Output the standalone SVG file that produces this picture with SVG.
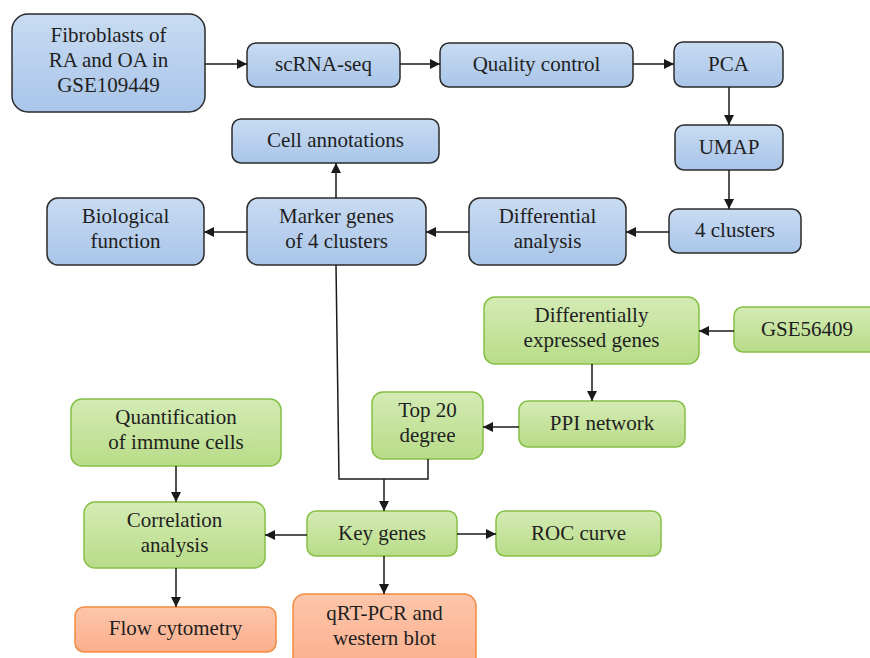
<svg xmlns="http://www.w3.org/2000/svg" width="870" height="658" viewBox="0 0 870 658">
<defs>
<linearGradient id="gb" x1="0" y1="0" x2="0" y2="1"><stop offset="0" stop-color="#c8dbf2"/><stop offset="1" stop-color="#a9c5e9"/></linearGradient>
<linearGradient id="gg" x1="0" y1="0" x2="0" y2="1"><stop offset="0" stop-color="#d4ebb4"/><stop offset="1" stop-color="#b8dc88"/></linearGradient>
<linearGradient id="go" x1="0" y1="0" x2="0" y2="1"><stop offset="0" stop-color="#fdc6ab"/><stop offset="1" stop-color="#fbaf8c"/></linearGradient>
<marker id="ah" viewBox="0 0 10 10" refX="10" refY="5" markerWidth="10" markerHeight="10" markerUnits="userSpaceOnUse" orient="auto"><path d="M0,0 L10,5 L0,10 z" fill="#1a1a1a"/></marker>
</defs>
<style>
.b{fill:url(#gb);stroke:#2b2b2b;stroke-width:1.5}
.g{fill:url(#gg);stroke:#86bf45;stroke-width:1.5}
.o{fill:url(#go);stroke:#f28a3f;stroke-width:1.5}
text{font-family:"Liberation Serif","Times New Roman",serif;font-size:21px;fill:#1f1f1f;text-anchor:middle}
.c line,.c polyline{stroke:#1a1a1a;stroke-width:1.5;fill:none;marker-end:url(#ah)}
.c polyline.n{marker-end:none}
</style>
<rect width="870" height="658" fill="#ffffff"/>
<g id="n-fibro"><rect class="b" x="12" y="14" width="193" height="98" rx="16"/><text x="108.5" y="42">Fibroblasts of</text><text x="108.5" y="67">RA and OA in</text><text x="108.5" y="92">GSE109449</text></g>
<g id="n-scrna"><rect class="b" x="247" y="43" width="153" height="44" rx="9"/><text x="323.5" y="71">scRNA-seq</text></g>
<g id="n-qc"><rect class="b" x="440" y="43" width="193" height="44" rx="9"/><text x="536.5" y="71">Quality control</text></g>
<g id="n-pca"><rect class="b" x="674" y="42" width="109" height="45" rx="9"/><text x="728.5" y="71">PCA</text></g>
<g id="n-umap"><rect class="b" x="675" y="125" width="108" height="45" rx="9"/><text x="729" y="154">UMAP</text></g>
<g id="n-4cl"><rect class="b" x="669" y="209" width="132" height="44" rx="9"/><text x="735" y="237">4 clusters</text></g>
<g id="n-diff"><rect class="b" x="469" y="198" width="157" height="67" rx="11"/><text x="547.5" y="223">Differential</text><text x="547.5" y="248">analysis</text></g>
<g id="n-marker"><rect class="b" x="247" y="198" width="179" height="67" rx="11"/><text x="336.5" y="223">Marker genes</text><text x="336.5" y="248">of 4 clusters</text></g>
<g id="n-bio"><rect class="b" x="47" y="198" width="157" height="67" rx="11"/><text x="125.5" y="223">Biological</text><text x="125.5" y="248">function</text></g>
<g id="n-cell"><rect class="b" x="232" y="119" width="207" height="44" rx="9"/><text x="335.5" y="147">Cell annotations</text></g>
<g id="n-deg"><rect class="g" x="484" y="297" width="215" height="67" rx="11"/><text x="591.5" y="322">Differentially</text><text x="591.5" y="347">expressed genes</text></g>
<g id="n-gse"><rect class="g" x="734" y="307" width="150" height="45" rx="9"/><text x="807" y="336">GSE56409</text></g>
<g id="n-ppi"><rect class="g" x="519" y="401" width="166" height="46" rx="9"/><text x="602" y="430">PPI network</text></g>
<g id="n-top"><rect class="g" x="372" y="392" width="111" height="67" rx="11"/><text x="427.5" y="417">Top 20</text><text x="427.5" y="442">degree</text></g>
<g id="n-quant"><rect class="g" x="71" y="399" width="210" height="67" rx="11"/><text x="176" y="424">Quantification</text><text x="176" y="449">of immune cells</text></g>
<g id="n-corr"><rect class="g" x="84" y="502" width="181" height="66" rx="11"/><text x="174.5" y="527">Correlation</text><text x="174.5" y="552">analysis</text></g>
<g id="n-key"><rect class="g" x="307" y="511" width="150" height="45" rx="9"/><text x="382" y="540">Key genes</text></g>
<g id="n-roc"><rect class="g" x="496" y="511" width="165" height="45" rx="9"/><text x="578.5" y="540">ROC curve</text></g>
<g id="n-flow"><rect class="o" x="75" y="607" width="201" height="45" rx="9"/><text x="175.5" y="635">Flow cytometry</text></g>
<g id="n-qrt"><rect class="o" x="293" y="594" width="183" height="75" rx="12"/><text x="384.5" y="620">qRT-PCR and</text><text x="384.5" y="645">western blot</text></g>
<g id="connectors" class="c">
<line x1="205" y1="64" x2="247" y2="64"/>
<line x1="400" y1="64" x2="440" y2="64"/>
<line x1="633" y1="64" x2="674" y2="64"/>
<line x1="729" y1="87" x2="729" y2="125"/>
<line x1="729" y1="170" x2="729" y2="209"/>
<line x1="669" y1="232" x2="626" y2="232"/>
<line x1="469" y1="232" x2="426" y2="232"/>
<line x1="247" y1="232" x2="204" y2="232"/>
<line x1="336" y1="198" x2="336" y2="163"/>
<polyline class="n" points="336,265 339,479 428,479 428,459"/>
<line x1="384" y1="479" x2="384" y2="511"/>
<line x1="734" y1="331" x2="699" y2="331"/>
<line x1="592" y1="364" x2="592" y2="401"/>
<line x1="519" y1="427" x2="483" y2="427"/>
<line x1="176" y1="466" x2="176" y2="502"/>
<line x1="307" y1="535" x2="265" y2="535"/>
<line x1="457" y1="534" x2="496" y2="534"/>
<line x1="176" y1="568" x2="176" y2="607"/>
<line x1="384" y1="556" x2="384" y2="594"/>
</g>
</svg>
